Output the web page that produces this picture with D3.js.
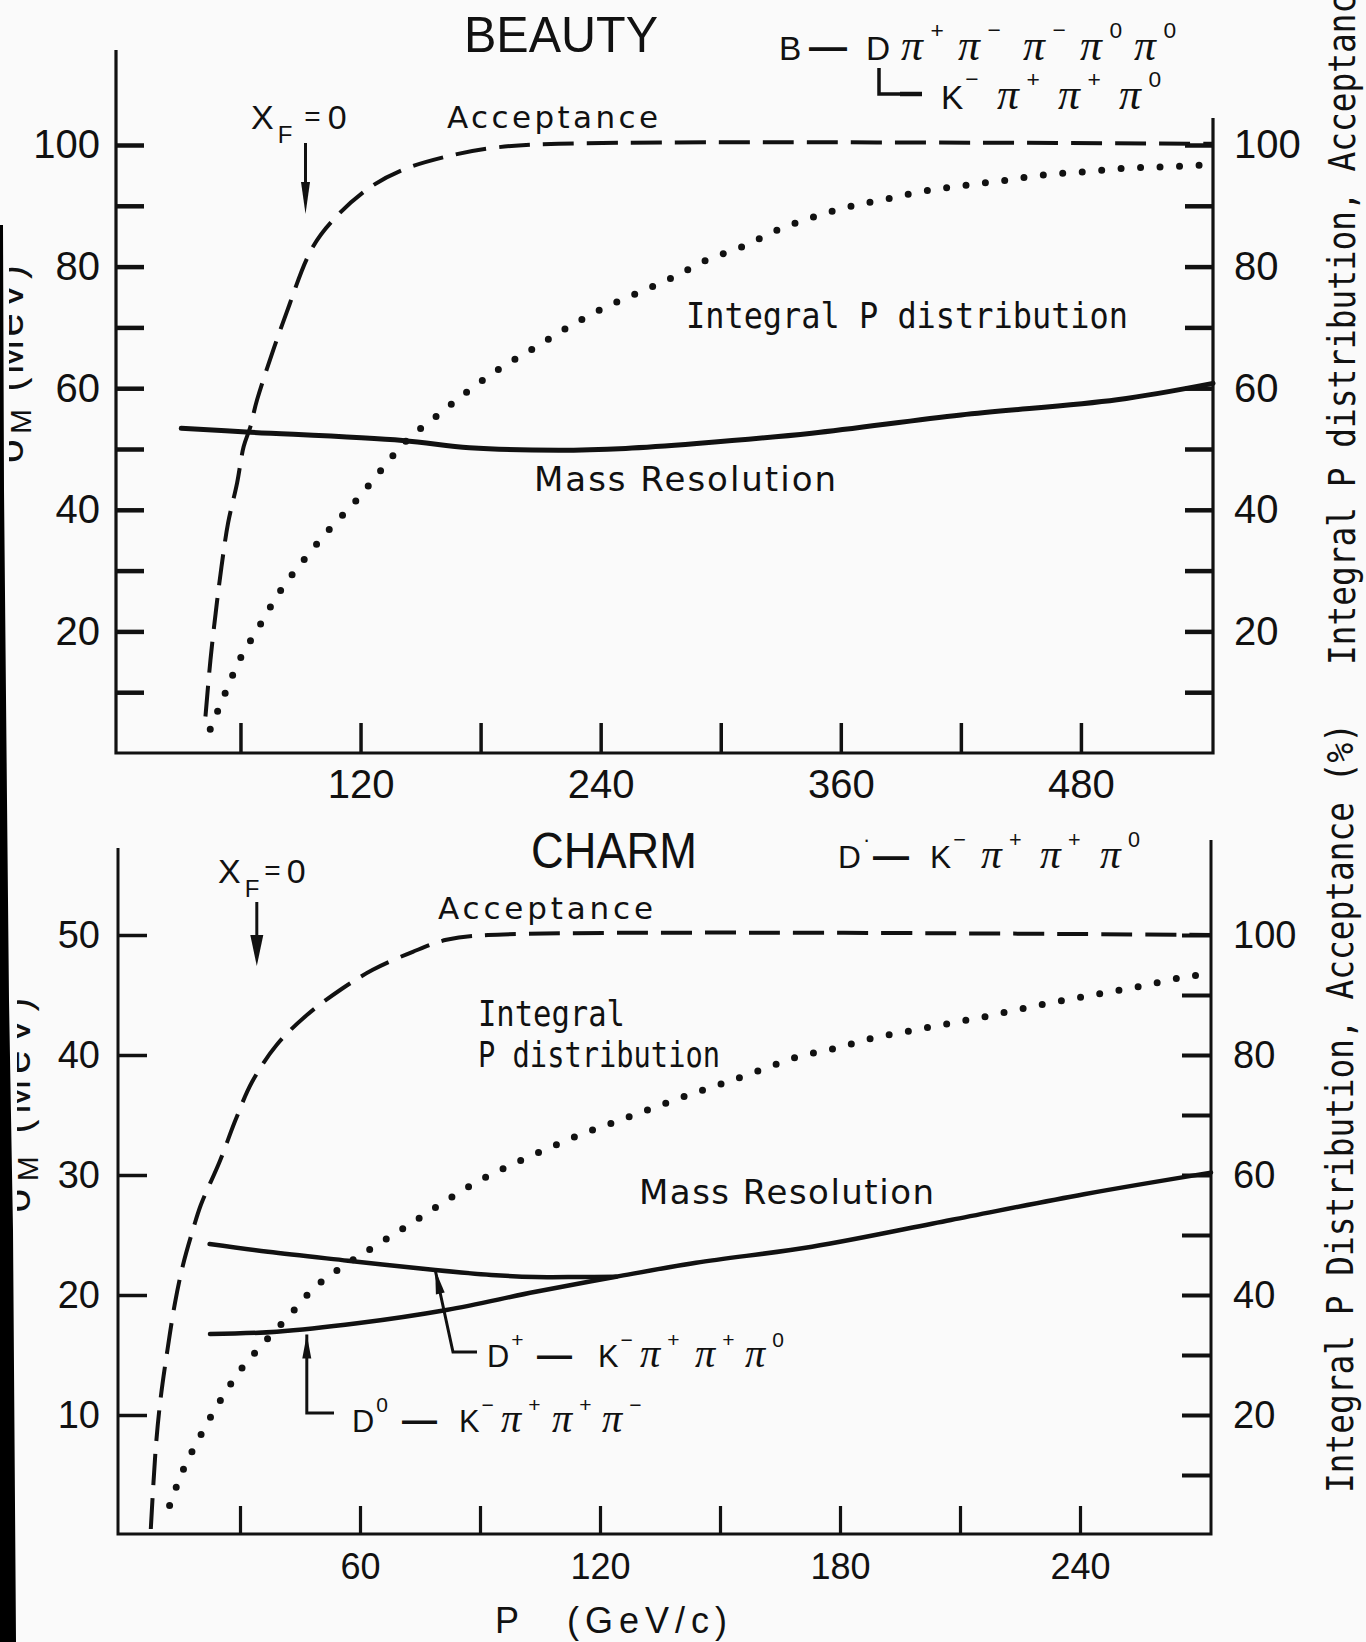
<!DOCTYPE html>
<html><head><meta charset="utf-8">
<script src="https://cdn.jsdelivr.net/npm/d3@7"></script>
<style>
html,body{margin:0;padding:0;background:#fafafa;}
svg{display:block;}
</style></head><body>
<svg id="c" width="1366" height="1642"></svg>
<script>
// ================= DATA =================
// BEAUTY panel (x: P in GeV/c, y: % for acceptance / integral, MeV for mass resolution)
const beautyAccP   = [42.5, 45, 47.6, 50.5, 53.8, 58.3, 61.6, 65, 68.3, 82.9, 96.3, 109.6, 125, 141, 163, 185.5, 219, 546];
const beautyAcc    = [6, 15.3, 23, 30.6, 37.8, 44.4, 50.4, 53.7, 58.1, 72.3, 83.3, 88.8, 93.1, 95.9, 98.1, 99.5, 100.2, 100.2];
const beautyIntP   = [44.9, 52.3, 60, 69.5, 80.2, 92, 105, 118, 130, 143, 158.7, 174.4, 190, 206.7, 223, 239.8, 258, 276, 293, 311, 329, 347.5, 365, 384, 403, 423, 442.5, 462, 482.5, 502.5, 522, 541.5];
const beautyInt    = [3.9, 9.8, 15.6, 20.9, 26.8, 31.9, 37, 41.6, 46.4, 51.4, 55.6, 59.7, 63.3, 66.6, 69.9, 72.9, 75.6, 78.2, 81.1, 83.3, 86.1, 88.3, 89.9, 91.2, 92.5, 93.4, 94.2, 95.1, 95.6, 96.2, 96.4, 96.7];
const beautyMassP  = [30.4, 62.8, 141, 174.4, 219, 252.5, 288, 345.5, 420, 498, 546];
const beautyMass   = [53.4, 52.8, 51.4, 50.2, 49.8, 50.1, 50.9, 52.6, 55.6, 58.1, 60.8];

// CHARM panel
const charmAccP    = [7.7, 9, 10.2, 11.85, 13.75, 15.75, 18.2, 20.2, 24.9, 28.9, 33, 39.2, 46.8, 55.4, 63.2, 73.2, 81.6, 92, 272.75];
const charmAcc     = [1, 15, 23, 30.8, 38.7, 45, 50.8, 55, 62.2, 69.2, 75.5, 81.7, 86.7, 91, 94.2, 97.2, 99.2, 100, 100];
const charmIntP    = [12.4, 15.75, 19.75, 24.7, 29.9, 35.9, 42.5, 48.9, 56.5, 64.6, 72.7, 81, 89.4, 97.8, 106.5, 115.3, 124, 132.9, 141.9, 150.9, 160.2, 169.5, 178.8, 188, 197.3, 206.8, 216.4, 226, 235.9, 245.6, 255.4, 264.5, 269.4];
const charmInt     = [4.9, 10.8, 16.1, 22, 27.3, 32, 36.7, 41.4, 45.1, 48.5, 51.9, 55.5, 58.9, 61.7, 64.3, 66.8, 68.9, 71.1, 73.3, 75.3, 77.5, 79.7, 81.1, 82.8, 84, 85.2, 86.4, 87.8, 89.1, 90.3, 91.5, 92.8, 93.3];
const massDplusP   = [22.4, 37, 57, 78.8, 92.8, 103.9, 115, 124];
const massDplus    = [24.25, 23.6, 22.86, 22.08, 21.67, 21.5, 21.5, 21.52];
const massD0P      = [22.5, 39.2, 59.3, 81.6, 103.9, 124, 144, 173, 207.7, 241, 272.75];
const massD0       = [16.75, 16.94, 17.64, 18.75, 20.27, 21.52, 22.69, 24.02, 26.25, 28.4, 30.2];

// ticks & labels
const beautyYTicks  = [10, 20, 30, 40, 50, 60, 70, 80, 90, 100];
const beautyYLabels = [20, 40, 60, 80, 100];
const beautyXTicks  = [60, 120, 180, 240, 300, 360, 420, 480];
const beautyXLabels = [120, 240, 360, 480];
const charmLTicks   = [10, 20, 30, 40, 50];
const charmLLabels  = [10, 20, 30, 40, 50];
const charmRTicks   = [10, 20, 30, 40, 50, 60, 70, 80, 90, 100];
const charmRLabels  = [20, 40, 60, 80, 100];
const charmXTicks   = [30, 60, 90, 120, 150, 180, 210, 240];
const charmXLabels  = [60, 120, 180, 240];

// annotation anchors (data units)
const beautyXF0 = 92.5;
const charmXF0 = 34.2;

// ================= DRAW =================
const INK = "#111";
const SANS = "'Liberation Sans', Arial, sans-serif";
const SERIF = "'Liberation Serif', serif";
const DV = "'DejaVu Sans', sans-serif";
const MONO = "'DejaVu Sans Mono', monospace";
const svg = d3.select("#c");
svg.append("rect").attr("width", 1366).attr("height", 1642).attr("fill", "#fafafa");

// scales
const xT = d3.scaleLinear().domain([-2.2, 546]).range([116, 1213]);
const yT = d3.scaleLinear().domain([0, 100]).range([753, 145]);
const xB = d3.scaleLinear().domain([-0.5, 272.75]).range([118, 1211]);
const yBL = d3.scaleLinear().domain([0, 50]).range([1535, 935]);
const yBR = d3.scaleLinear().domain([0, 100]).range([1535, 935]);

function styleAxis(g, fs, tw) {
  g.select(".domain").remove();
  g.attr("font-family", SANS).attr("font-size", fs);
  g.selectAll(".tick line").attr("stroke", INK).attr("stroke-width", tw);
  g.selectAll(".tick text").attr("fill", INK);
}
const fmt = labels => d => labels.includes(d) ? String(d) : "";

// ---------- BEAUTY frame ----------
const gTop = svg.append("g");
gTop.append("path").attr("d", "M116,50V753H1213V118").attr("fill", "none")
  .attr("stroke", INK).attr("stroke-width", 3.2);
gTop.append("g").attr("transform", "translate(116,0)")
  .call(d3.axisLeft(yT).tickValues(beautyYTicks).tickSize(-28).tickPadding(16).tickFormat(fmt(beautyYLabels)))
  .call(g => styleAxis(g, 40, 4.5));
gTop.append("g").attr("transform", "translate(1213,0)")
  .call(d3.axisRight(yT).tickValues(beautyYTicks).tickSize(-28).tickPadding(21).tickFormat(fmt(beautyYLabels)))
  .call(g => styleAxis(g, 40, 4.5));
gTop.append("g").attr("transform", "translate(0,753)")
  .call(d3.axisBottom(xT).tickValues(beautyXTicks).tickSize(-30).tickPadding(17).tickFormat(fmt(beautyXLabels)))
  .call(g => styleAxis(g, 40, 3.5));

// ---------- CHARM frame ----------
const gBot = svg.append("g");
gBot.append("path").attr("d", "M118,848V1534H1211V840").attr("fill", "none")
  .attr("stroke", INK).attr("stroke-width", 3);
gBot.append("g").attr("transform", "translate(118,0)")
  .call(d3.axisLeft(yBL).tickValues(charmLTicks).tickSize(-29).tickPadding(18).tickFormat(fmt(charmLLabels)))
  .call(g => styleAxis(g, 38, 3.5));
gBot.append("g").attr("transform", "translate(1211,0)")
  .call(d3.axisRight(yBR).tickValues(charmRTicks).tickSize(-29).tickPadding(22).tickFormat(fmt(charmRLabels)))
  .call(g => styleAxis(g, 38, 4));
gBot.append("g").attr("transform", "translate(0,1534)")
  .call(d3.axisBottom(xB).tickValues(charmXTicks).tickSize(-28).tickPadding(19).tickFormat(fmt(charmXLabels)))
  .call(g => styleAxis(g, 36, 3.2));

// ---------- curves ----------
function curve(g, xs, ys, sx, sy, kind) {
  const pts = d3.zip(xs, ys);
  const line = d3.line().x(d => sx(d[0])).y(d => sy(d[1])).curve(d3.curveCatmullRom.alpha(0.5));
  const p = g.append("path").attr("d", line(pts)).attr("fill", "none").attr("stroke", INK);
  if (kind === "dash") p.attr("stroke-width", 4).attr("stroke-dasharray", "31 13");
  else if (kind === "dot") p.attr("stroke-width", 7).attr("stroke-dasharray", "0 19.5").attr("stroke-linecap", "round");
  else p.attr("stroke-width", kind || 4.5).attr("stroke-linecap", "round");
}
curve(gTop, beautyAccP, beautyAcc, xT, yT, "dash");
curve(gTop, beautyIntP, beautyInt, xT, yT, "dot");
curve(gTop, beautyMassP, beautyMass, xT, yT, 5);

curve(gBot, charmAccP, charmAcc, xB, yBR, "dash");
curve(gBot, charmIntP, charmInt, xB, yBR, "dot");
curve(gBot, massDplusP, massDplus, xB, yBL, 4.5);
curve(gBot, massD0P, massD0, xB, yBL, 4.5);

// ---------- text helpers ----------
function txt(g, s, x, y, o = {}) {
  const t = g.append("text").attr("x", x).attr("y", y).text(s)
    .attr("fill", INK).attr("font-family", o.ff || SANS).attr("font-size", o.fs || 32);
  if (o.len) t.attr("textLength", o.len).attr("lengthAdjust", o.adj || "spacing");
  if (o.anchor) t.attr("text-anchor", o.anchor);
  if (o.style) t.attr("font-style", o.style);
  if (o.weight) t.attr("font-weight", o.weight);
  return t;
}
// each group = one glyph plus an optional superscript, drawn as one text element
function formula(g, groups, base, size) {
  groups.forEach(([s, x, kind, sup]) => {
    const t = g.append("text").attr("x", x).attr("y", base).attr("fill", INK);
    const m = t.append("tspan").text(s);
    if (kind === "pi") m.attr("font-family", SERIF).attr("font-style", "italic").attr("font-size", size * 1.15);
    else if (kind === "dash") m.attr("font-family", SANS).attr("font-weight", "bold").attr("font-size", size);
    else m.attr("font-family", SANS).attr("font-size", size * 0.88);
    if (sup) t.append("tspan").text(sup).attr("dx", kind === "pi" ? size * 0.2 : 2).attr("dy", -0.58 * size)
      .attr("font-family", SANS).attr("font-size", size * 0.6);
  });
}
function arrowHead(g, tip, from, len, w) {
  const dx = tip[0] - from[0], dy = tip[1] - from[1], L = Math.hypot(dx, dy);
  const ux = dx / L, uy = dy / L, bx = tip[0] - ux * len, by = tip[1] - uy * len;
  g.append("path").attr("fill", INK)
    .attr("d", `M${tip[0]},${tip[1]}L${bx - uy * w / 2},${by + ux * w / 2}L${bx + uy * w / 2},${by - ux * w / 2}Z`);
}

// ---------- BEAUTY annotations ----------
txt(gTop, "BEAUTY", 464, 52, { fs: 50, len: 194, adj: "spacingAndGlyphs" });
formula(gTop, [["B", 779], ["—", 809, "dash"], ["D", 866], ["π", 901, "pi", "+"],
  ["π", 958, "pi", "−"], ["π", 1023, "pi", "−"], ["π", 1080, "pi", "0"], ["π", 1134, "pi", "0"]], 60, 38);
gTop.append("path").attr("d", "M879,68V94H918").attr("fill", "none").attr("stroke", INK).attr("stroke-width", 3.5);
gTop.append("path").attr("d", "M900,94H922").attr("stroke", INK).attr("stroke-width", 4.5);
formula(gTop, [["K", 941, "n", "−"], ["π", 997, "pi", "+"], ["π", 1058, "pi", "+"], ["π", 1119, "pi", "0"]], 109, 38);

const xfT = xT(beautyXF0);
const xfTopLabel = gTop.append("text").attr("x", 251).attr("y", 129).attr("fill", INK).attr("font-family", SANS);
xfTopLabel.append("tspan").text("X").attr("font-size", 34);
xfTopLabel.append("tspan").text("F").attr("font-size", 24).attr("dx", 4).attr("dy", 14);
xfTopLabel.append("tspan").text("=").attr("font-size", 28).attr("dx", 12).attr("dy", -17);
xfTopLabel.append("tspan").text("0").attr("font-size", 34).attr("dx", 7).attr("dy", 3);
gTop.append("line").attr("x1", xfT).attr("x2", xfT).attr("y1", 143).attr("y2", 200).attr("stroke", INK).attr("stroke-width", 3);
arrowHead(gTop, [xfT, 214], [xfT, 143], 32, 9);
txt(gTop, "Acceptance", 447, 128, { fs: 31, ff: DV, len: 211 });
txt(gTop, "Integral P distribution", 686, 328, { fs: 36, ff: MONO, len: 442, adj: "spacingAndGlyphs" });
txt(gTop, "Mass Resolution", 534, 491, { fs: 34, ff: DV, len: 302 });

// ---------- CHARM annotations ----------
txt(gBot, "CHARM", 531, 868, { fs: 50, len: 166, adj: "spacingAndGlyphs" });
formula(gBot, [["D", 838, "n", "·"], ["—", 873, "dash"], ["K", 930, "n", "−"],
  ["π", 981, "pi", "+"], ["π", 1040, "pi", "+"], ["π", 1100, "pi", "0"]], 868, 36);
const xfB = xB(charmXF0);
const xfBotLabel = gBot.append("text").attr("x", 218).attr("y", 883).attr("fill", INK).attr("font-family", SANS);
xfBotLabel.append("tspan").text("X").attr("font-size", 34);
xfBotLabel.append("tspan").text("F").attr("font-size", 24).attr("dx", 4).attr("dy", 14);
xfBotLabel.append("tspan").text("=").attr("font-size", 28).attr("dx", 5).attr("dy", -17);
xfBotLabel.append("tspan").text("0").attr("font-size", 34).attr("dx", 6).attr("dy", 3);
gBot.append("line").attr("x1", xfB).attr("x2", xfB).attr("y1", 902).attr("y2", 950).attr("stroke", INK).attr("stroke-width", 3);
arrowHead(gBot, [xfB, 966], [xfB, 902], 31, 13);
txt(gBot, "Acceptance", 438, 919, { fs: 31, ff: DV, len: 215 });
txt(gBot, "Integral", 478, 1026, { fs: 35, ff: MONO, len: 147, adj: "spacingAndGlyphs" });
txt(gBot, "P distribution", 478, 1067, { fs: 35, ff: MONO, len: 242, adj: "spacingAndGlyphs" });
txt(gBot, "Mass Resolution", 639, 1204, { fs: 34, ff: DV, len: 295 });

// leaders
const tipDp = [xB(78.8), yBL(22.08)];
gBot.append("path").attr("d", `M${tipDp[0]},${tipDp[1]}L453,1352H477`).attr("fill", "none").attr("stroke", INK).attr("stroke-width", 3);
arrowHead(gBot, tipDp, [453, 1352], 24, 9);
formula(gBot, [["D", 487, "n", "+"], ["—", 537, "dash"], ["K", 598, "n", "−"],
  ["π", 640, "pi", "+"], ["π", 695, "pi", "+"], ["π", 745, "pi", "0"]], 1367, 35);
const tipD0 = [xB(46.7), yBL(17.3) + 7];
gBot.append("path").attr("d", `M${tipD0[0]},${tipD0[1]}V1413H334`).attr("fill", "none").attr("stroke", INK).attr("stroke-width", 3);
arrowHead(gBot, tipD0, [tipD0[0], 1413], 24, 9);
formula(gBot, [["D", 352, "n", "0"], ["—", 402, "dash"], ["K", 459, "n", "−"],
  ["π", 501, "pi", "+"], ["π", 552, "pi", "+"], ["π", 602, "pi", "−"]], 1432, 35);

txt(gBot, "P", 495, 1633, { fs: 36 });
txt(gBot, "(GeV/c)", 567, 1633, { fs: 36, len: 160 });

// right-hand axis titles (rotated)
txt(svg, "Integral P distribution, Acceptance (%)", 0, 0, { fs: 37, ff: MONO, len: 770, adj: "spacingAndGlyphs" })
  .attr("transform", "translate(1355,665) rotate(-90)");
txt(svg, "Integral P Distribution, Acceptance (%)", 0, 0, { fs: 37, ff: MONO, len: 770, adj: "spacingAndGlyphs" })
  .attr("transform", "translate(1353,1493) rotate(-90)");

// left-hand axis titles, cut by the edge of the scan
const defs = svg.append("defs");
defs.append("clipPath").attr("id", "clipT").append("rect").attr("x", 9).attr("y", 0).attr("width", 40).attr("height", 800);
defs.append("clipPath").attr("id", "clipB").append("rect").attr("x", 17).attr("y", 800).attr("width", 40).attr("height", 800);
const lt = svg.append("g").attr("clip-path", "url(#clipT)");
const tl = lt.append("text").attr("transform", "translate(23,364) rotate(-90)").attr("text-anchor", "middle")
  .attr("font-family", SANS).attr("font-size", 42).attr("fill", INK).attr("textLength", 198);
tl.append("tspan").text("σ");
tl.append("tspan").text("M").attr("font-size", 30).attr("dy", 8);
tl.append("tspan").text(" (MeV)").attr("dy", -8);
const lb = svg.append("g").attr("clip-path", "url(#clipB)");
const bl = lb.append("text").attr("transform", "translate(30,1105) rotate(-90)").attr("text-anchor", "middle")
  .attr("font-family", SANS).attr("font-size", 42).attr("fill", INK).attr("textLength", 215);
bl.append("tspan").text("σ");
bl.append("tspan").text("M").attr("font-size", 30).attr("dy", 8);
bl.append("tspan").text(" (MeV)").attr("dy", -8);

// dark edge of the scanned page
svg.append("path").attr("d", "M0,225L3,225L4,490L7,800L9,1000L13,1230L16,1642L0,1642Z").attr("fill", "#000");
</script>
</body></html>
